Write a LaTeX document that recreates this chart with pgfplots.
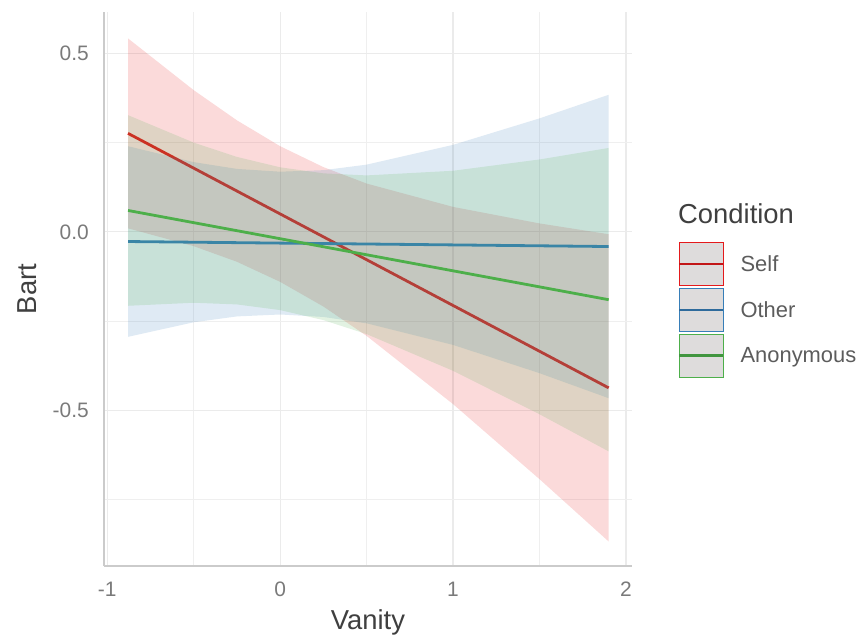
\documentclass[border=0pt]{standalone}
\usepackage{fontspec}
\setmainfont{Liberation Sans}
\usepackage{pgfplots}
\pgfplotsset{compat=1.18}
\definecolor{cRed}{HTML}{E41A1C}
\definecolor{cBlue}{HTML}{377EB8}
\definecolor{cGreen}{HTML}{4DAF4A}
\definecolor{tickgray}{HTML}{7A7A7A}
\definecolor{titlegray}{HTML}{3F3F3F}
\definecolor{gridgray}{HTML}{EBEBEB}
\definecolor{axisgray}{HTML}{CBCBCB}
\definecolor{keyfill}{HTML}{DEDCDC}
\begin{document}
\begin{tikzpicture}
\useasboundingbox (0,0) rectangle (865bp,637bp);
\begin{axis}[
  at={(104bp,71bp)}, anchor=south west,
  scale only axis, width=528bp, height=554bp,
  xmin=-1.019, xmax=2.035, ymin=-0.936, ymax=0.616,
  axis x line=bottom, axis y line=left,
  axis line style={-, draw=axisgray, line width=1.8bp},
  tick style={draw=none}, tick align=inside,
  xtick={-1,0,1,2}, xticklabels={-1,0,1,2},
  ytick={-0.5,0,0.5}, yticklabels={-0.5,0.0,0.5},
  minor xtick={-0.5,0.5,1.5}, minor ytick={-0.75,-0.25,0.25},
  grid=both,
  major grid style={draw=gridgray, line width=1.2bp},
  minor grid style={draw=gridgray!80, line width=0.8bp},
  xticklabel style={font=\fontsize{21}{21}\selectfont, text=tickgray, anchor=north, inner sep=0pt, yshift=-16bp},
  yticklabel style={font=\fontsize{21}{21}\selectfont, text=tickgray, anchor=east, inner sep=0pt, xshift=-15bp},
  xlabel={Vanity}, ylabel={Bart},
  xlabel style={at={(axis description cs:0.5,-0.1155)}, anchor=base, inner sep=0pt, font=\fontsize{27.5}{27.5}\selectfont, text=titlegray},
  ylabel style={at={(axis description cs:-0.1269,0.5)}, anchor=base, inner sep=0pt, font=\fontsize{27.5}{27.5}\selectfont, text=titlegray},
  legend style={at={(1.0871,0.5848)}, anchor=north west, draw=none, fill=none, inner sep=0pt, outer sep=0pt,
    row sep=1.5bp, column sep=16bp, font=\fontsize{22}{22}\selectfont, text=titlegray!85, nodes={inner sep=0pt}},
  legend cell align=left,
]
\addlegendimage{legend image code/.code={
  \draw[draw=cRed, line width=1.3bp, fill=keyfill] (0bp,-21.5bp) rectangle (44bp,21.5bp);
  \draw[draw=cRed!85!black, line width=2.6bp] (0bp,0bp) -- (44bp,0bp);}}
\addlegendentry{Self}
\addlegendimage{legend image code/.code={
  \draw[draw=cBlue, line width=1.3bp, fill=keyfill] (0bp,-21.5bp) rectangle (44bp,21.5bp);
  \draw[draw=cBlue!85!black, line width=2.6bp] (0bp,0bp) -- (44bp,0bp);}}
\addlegendentry{Other}
\addlegendimage{legend image code/.code={
  \draw[draw=cGreen, line width=1.3bp, fill=keyfill] (0bp,-21.5bp) rectangle (44bp,21.5bp);
  \draw[draw=cGreen!85!black, line width=2.6bp] (0bp,0bp) -- (44bp,0bp);}}
\addlegendentry{Anonymous}

% Self
\addplot[forget plot, draw=none, fill=cRed, fill opacity=0.16] coordinates {
 (-0.88,0.542) (-0.5,0.397) (-0.25,0.3125) (0,0.240) (0.25,0.1815) (0.5,0.1354) (1.0,0.070) (1.5,0.0237) (1.9,-0.0066)
 (1.9,-0.8674) (1.5,-0.6927) (1.0,-0.4825) (0.5,-0.2914) (0.25,-0.2091) (0,-0.140) (-0.25,-0.0837) (-0.5,-0.040) (-0.88,0.010)};
\addplot[forget plot, draw=cRed, line width=2.8bp] coordinates {(-0.88,0.276) (1.9,-0.437)};
% Other
\addplot[forget plot, draw=none, fill=cBlue, fill opacity=0.16] coordinates {
 (-0.88,0.240) (-0.5,0.1954) (-0.25,0.1764) (0,0.1686) (0.25,0.1729) (0.5,0.1884) (1.0,0.2438) (1.5,0.318) (1.9,0.3841)
 (1.9,-0.4659) (1.5,-0.3958) (1.0,-0.3166) (0.5,-0.2562) (0.25,-0.2383) (0,-0.2314) (-0.25,-0.2368) (-0.5,-0.2532) (-0.88,-0.294)};
\addplot[forget plot, draw=cBlue, line width=2.8bp] coordinates {(-0.88,-0.027) (1.9,-0.041)};
% Anonymous
\addplot[forget plot, draw=none, fill=cGreen, fill opacity=0.16] coordinates {
 (-0.88,0.327) (-0.5,0.2501) (-0.25,0.2100) (0,0.1809) (0.25,0.1640) (0.5,0.1582) (1.0,0.1712) (1.5,0.2029) (1.9,0.2351)
 (1.9,-0.6149) (1.5,-0.5109) (1.0,-0.3892) (0.5,-0.2864) (0.25,-0.2472) (0,-0.2191) (-0.25,-0.2032) (-0.5,-0.1985) (-0.88,-0.207)};
\addplot[forget plot, draw=cGreen, line width=2.8bp] coordinates {(-0.88,0.06) (1.9,-0.19)};
\end{axis}
\node[anchor=base west, inner sep=0pt, font=\fontsize{27.5}{27.5}\selectfont, text=titlegray] at (678bp,413bp) {Condition};
\end{tikzpicture}
\end{document}
